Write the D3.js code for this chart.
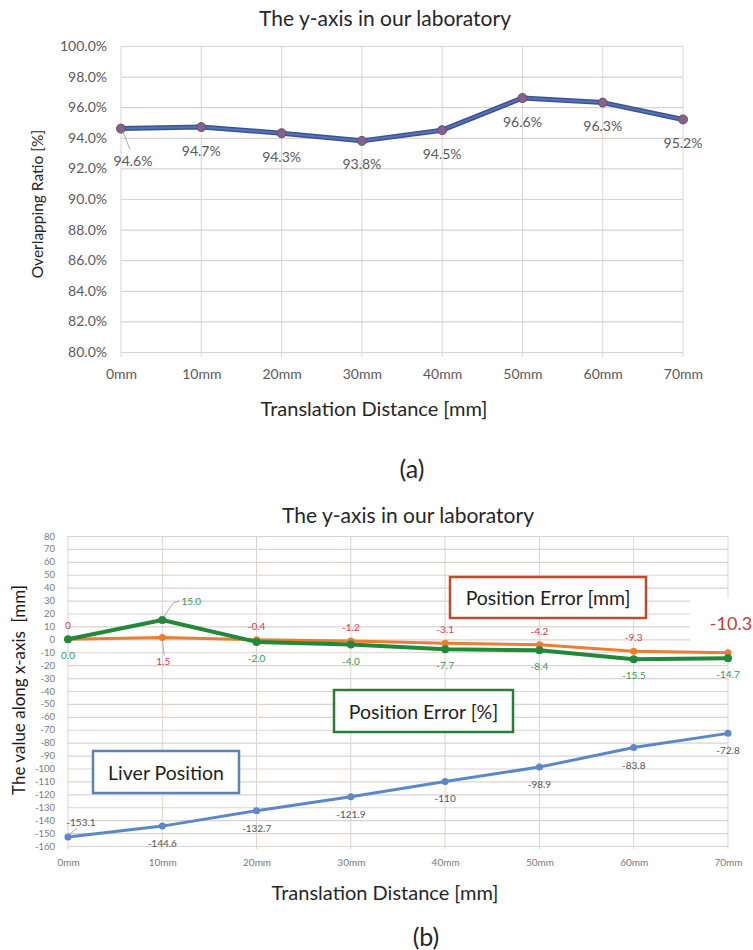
<!DOCTYPE html>
<html>
<head>
<meta charset="utf-8">
<script src="https://cdn.jsdelivr.net/npm/d3@7"></script>
<style>
  body { margin: 0; background: #fff; }
  svg { display: block; }
  text { font-family: Lato, "Liberation Sans", sans-serif; }
</style>
</head>
<body>
<svg id="fig" width="753" height="950"></svg>
<script>
// ---- data ----
const categories = ["0mm", "10mm", "20mm", "30mm", "40mm", "50mm", "60mm", "70mm"];

// panel (a): overlapping ratio [%]
const overlapRatio = [94.6, 94.7, 94.3, 93.8, 94.5, 96.6, 96.3, 95.2];
const ratioTicks = [80, 82, 84, 86, 88, 90, 92, 94, 96, 98, 100];

// panel (b): positions and errors along the x-axis [mm]
const liverPosition = [-153.1, -144.6, -132.7, -121.9, -110, -98.9, -83.8, -72.8];
const errorMm = [0, 1.5, -0.4, -1.2, -3.1, -4.2, -9.3, -10.3];
const errorMmLabels = ["0", "1.5", "-0.4", "-1.2", "-3.1", "-4.2", "-9.3", "-10.3"];
const errorPct = [0.0, 15.0, -2.0, -4.0, -7.7, -8.4, -15.5, -14.7];
const valueTicks = d3.range(-160, 81, 10);

const svg = d3.select("#fig");
const GRID = "#ddd2d2";
const TICK_TEXT = "#5a5a5a";
const LEADER = "#a8a8a8";

// ===================== panel (a) =====================
const pa = { left: 121, right: 683, top: 46, bottom: 352 };
const xa = d3.scalePoint().domain(categories).range([pa.left, pa.right]);
const ya = d3.scaleLinear().domain([80, 100]).range([pa.bottom, pa.top]);

const ga = svg.append("g");

ga.append("text")
  .attr("x", 385).attr("y", 17)
  .attr("text-anchor", "middle").attr("dominant-baseline", "central")
  .attr("font-size", 21).attr("fill", "#262626")
  .text("The y-axis in our laboratory");

// vertical grid
ga.append("g").selectAll("line").data(categories).join("line")
  .attr("x1", d => xa(d)).attr("x2", d => xa(d))
  .attr("y1", pa.top).attr("y2", pa.bottom + 5)
  .attr("stroke", GRID).attr("stroke-width", 1);

// y axis with horizontal grid
const yAxisA = ga.append("g")
  .attr("transform", `translate(${pa.left},0)`)
  .call(d3.axisLeft(ya).tickValues(ratioTicks)
    .tickSize(-(pa.right - pa.left)).tickPadding(14)
    .tickFormat(d => d.toFixed(1) + "%"));
yAxisA.select(".domain").remove();
yAxisA.selectAll("line").attr("stroke", GRID).attr("stroke-width", 1.2);
yAxisA.selectAll("text").attr("font-size", 14).attr("fill", TICK_TEXT)
  .attr("font-family", "Lato, sans-serif");

// x axis labels
const xAxisA = ga.append("g")
  .attr("transform", `translate(0,${pa.bottom})`)
  .call(d3.axisBottom(xa).tickSize(0));
xAxisA.select(".domain").remove();
xAxisA.selectAll("text").attr("dy", null).attr("y", 21)
  .attr("dominant-baseline", "central")
  .attr("font-size", 14).attr("fill", TICK_TEXT)
  .attr("font-family", "Lato, sans-serif");

// axis titles
ga.append("text")
  .attr("transform", `translate(37,204) rotate(-90)`)
  .attr("text-anchor", "middle").attr("dominant-baseline", "central")
  .attr("font-family", "'Open Sans', sans-serif")
  .attr("font-size", 15.5).attr("fill", "#262626")
  .text("Overlapping Ratio [%]");
ga.append("text")
  .attr("x", 374).attr("y", 408)
  .attr("text-anchor", "middle").attr("dominant-baseline", "central")
  .attr("font-size", 20).attr("fill", "#262626")
  .text("Translation Distance [mm]");

// ratio line
const lineA = d3.line().x((d, i) => xa(categories[i])).y(d => ya(d));
ga.append("path").datum(overlapRatio).attr("d", lineA)
  .attr("fill", "none").attr("stroke", "#3a5394").attr("stroke-width", 5)
  .attr("stroke-linejoin", "round");
ga.append("path").datum(overlapRatio).attr("d", lineA)
  .attr("fill", "none").attr("stroke", "#5773b4").attr("stroke-width", 2)
  .attr("stroke-linejoin", "round");
ga.append("g").selectAll("circle").data(overlapRatio).join("circle")
  .attr("cx", (d, i) => xa(categories[i])).attr("cy", d => ya(d))
  .attr("r", 4.5).attr("fill", "#85628a").attr("stroke", "#6a4a78").attr("stroke-width", 1);

// value labels below each point; the first one sits offset with a leader
ga.append("line")
  .attr("x1", xa(categories[0]) + 2).attr("y1", ya(overlapRatio[0]) + 3)
  .attr("x2", xa(categories[0]) + 9).attr("y2", ya(overlapRatio[0]) + 21)
  .attr("stroke", LEADER).attr("stroke-width", 1);
ga.append("g").selectAll("text").data(overlapRatio).join("text")
  .attr("x", (d, i) => xa(categories[i]) + (i === 0 ? 12 : 0))
  .attr("y", (d, i) => ya(d) + (i === 0 ? 32 : 23))
  .attr("text-anchor", "middle").attr("dominant-baseline", "central")
  .attr("font-size", 14).attr("fill", "#595959")
  .text(d => d.toFixed(1) + "%");

// panel label
svg.append("text")
  .attr("x", 412).attr("y", 468)
  .attr("text-anchor", "middle").attr("dominant-baseline", "central")
  .attr("font-size", 25).attr("fill", "#262626")
  .text("(a)");

// ===================== panel (b) =====================
const pb = { left: 68, right: 728, top: 536, bottom: 846 };
const xb = d3.scalePoint().domain(categories).range([pb.left, pb.right]);
const yb = d3.scaleLinear().domain([-160, 80]).range([pb.bottom, pb.top]);

const gb = svg.append("g");

gb.append("text")
  .attr("x", 408).attr("y", 514)
  .attr("text-anchor", "middle").attr("dominant-baseline", "central")
  .attr("font-size", 21).attr("fill", "#262626")
  .text("The y-axis in our laboratory");

gb.append("g").selectAll("line").data(categories).join("line")
  .attr("x1", d => xb(d)).attr("x2", d => xb(d))
  .attr("y1", pb.top).attr("y2", pb.bottom + 3)
  .attr("stroke", GRID).attr("stroke-width", 1);

const yAxisB = gb.append("g")
  .attr("transform", `translate(${pb.left},0)`)
  .call(d3.axisLeft(yb).tickValues(valueTicks)
    .tickSize(-(pb.right - pb.left)).tickPadding(13)
    .tickFormat(d => String(d)));
yAxisB.select(".domain").remove();
yAxisB.selectAll("line").attr("stroke", GRID).attr("stroke-width", 1.2);
yAxisB.selectAll("text").attr("font-size", 9.5).attr("fill", "#7a7a7a")
  .attr("font-family", "Lato, sans-serif");

const xAxisB = gb.append("g")
  .attr("transform", `translate(0,${pb.bottom})`)
  .call(d3.axisBottom(xb).tickSize(0));
xAxisB.select(".domain").remove();
xAxisB.selectAll("text").attr("dy", null).attr("y", 16)
  .attr("dominant-baseline", "central")
  .attr("font-size", 10).attr("fill", "#7a7a7a")
  .attr("font-family", "Lato, sans-serif");

gb.append("text")
  .attr("transform", `translate(18,690) rotate(-90)`)
  .attr("text-anchor", "middle").attr("dominant-baseline", "central")
  .attr("font-family", "'Open Sans', sans-serif")
  .attr("font-size", 17).attr("fill", "#1a1a1a")
  .attr("xml:space", "preserve")
  .text("The value along x-axis  [mm]");
gb.append("text")
  .attr("x", 385).attr("y", 892)
  .attr("text-anchor", "middle").attr("dominant-baseline", "central")
  .attr("font-size", 20).attr("fill", "#262626")
  .text("Translation Distance [mm]");

const lineB = d3.line().x((d, i) => xb(categories[i])).y(d => yb(d));

// liver position
gb.append("path").datum(liverPosition).attr("d", lineB)
  .attr("fill", "none").attr("stroke", "#5b88c6").attr("stroke-width", 3);
gb.append("g").selectAll("circle").data(liverPosition).join("circle")
  .attr("cx", (d, i) => xb(categories[i])).attr("cy", d => yb(d))
  .attr("r", 3.5).attr("fill", "#5b88c6");

// position error [mm]
gb.append("path").datum(errorMm).attr("d", lineB)
  .attr("fill", "none").attr("stroke", "#ed7d31").attr("stroke-width", 3);
gb.append("g").selectAll("circle").data(errorMm).join("circle")
  .attr("cx", (d, i) => xb(categories[i])).attr("cy", d => yb(d))
  .attr("r", 3.5).attr("fill", "#ed7d31");

// position error [%]
gb.append("path").datum(errorPct).attr("d", lineB)
  .attr("fill", "none").attr("stroke", "#23893a").attr("stroke-width", 4)
  .attr("stroke-linejoin", "round");
gb.append("g").selectAll("circle").data(errorPct).join("circle")
  .attr("cx", (d, i) => xb(categories[i])).attr("cy", d => yb(d))
  .attr("r", 4).attr("fill", "#23893a");

// leader lines for the displaced labels
const leaders = gb.append("g").attr("stroke", LEADER).attr("stroke-width", 1).attr("fill", "none");
leaders.append("path").attr("d",
  `M${xb(categories[1]) + 2},${yb(errorPct[1]) - 4} L${xb(categories[1]) + 11},${yb(errorPct[1]) - 17} L${xb(categories[1]) + 17},${yb(errorPct[1]) - 19}`);
leaders.append("path").attr("d",
  `M${xb(categories[1])},${yb(errorMm[1]) + 3} L${xb(categories[1]) + 2},${yb(errorMm[1]) + 18}`);
leaders.append("path").attr("d",
  `M${xb(categories[0]) + 2},${yb(liverPosition[0]) - 3} L${xb(categories[0]) + 9},${yb(liverPosition[0]) - 9}`);

// value labels
gb.append("g").selectAll("text").data(liverPosition).join("text")
  .attr("x", (d, i) => xb(categories[i]) + (i === 0 ? 13 : 0))
  .attr("y", (d, i) => yb(d) + (i === 0 ? -15 : 17))
  .attr("text-anchor", "middle").attr("dominant-baseline", "central")
  .attr("font-size", 10).attr("fill", "#555")
  .text(d => String(d));

gb.append("g").selectAll("text").data(errorMm.slice(0, 7)).join("text")
  .attr("x", (d, i) => xb(categories[i]) + (i === 1 ? 1 : 0))
  .attr("y", (d, i) => yb(d) + (i === 1 ? 24 : -14))
  .attr("text-anchor", "middle").attr("dominant-baseline", "central")
  .attr("font-size", 10).attr("fill", "#d23c44")
  .text((d, i) => errorMmLabels[i]);

gb.append("g").selectAll("text").data(errorPct).join("text")
  .attr("x", (d, i) => xb(categories[i]) + (i === 1 ? 29 : 0))
  .attr("y", (d, i) => yb(d) + (i === 1 ? -19 : 16))
  .attr("text-anchor", "middle").attr("dominant-baseline", "central")
  .attr("font-size", 10).attr("fill", "#3a9a52")
  .text(d => d.toFixed(1));

// last error [mm] value, enlarged on a white patch
gb.append("rect").attr("x", 690).attr("y", 598).attr("width", 63).attr("height", 49)
  .attr("fill", "#fff");
gb.append("text")
  .attr("x", 731).attr("y", 623)
  .attr("text-anchor", "middle").attr("dominant-baseline", "central")
  .attr("font-size", 18).attr("fill", "#c5383c")
  .text(errorMmLabels[7]);

// series name boxes
const boxes = [
  { name: "Position Error [mm]", x: 450, y: 577, w: 196, h: 41, color: "#bf4a2e" },
  { name: "Position Error [%]", x: 334, y: 690, w: 179, h: 42, color: "#2a7d34" },
  { name: "Liver Position", x: 93, y: 751, w: 146, h: 42, color: "#5a82b8" }
];
const box = gb.append("g").selectAll("g").data(boxes).join("g");
box.append("rect")
  .attr("x", d => d.x).attr("y", d => d.y).attr("width", d => d.w).attr("height", d => d.h)
  .attr("fill", "#fff").attr("stroke", d => d.color).attr("stroke-width", 2.5);
box.append("text")
  .attr("x", d => d.x + d.w / 2).attr("y", d => d.y + d.h / 2)
  .attr("text-anchor", "middle").attr("dominant-baseline", "central")
  .attr("font-size", 19.5).attr("fill", "#1f1f1f")
  .text(d => d.name);

svg.append("text")
  .attr("x", 426).attr("y", 936)
  .attr("text-anchor", "middle").attr("dominant-baseline", "central")
  .attr("font-size", 25).attr("fill", "#262626")
  .text("(b)");
</script>
</body>
</html>
